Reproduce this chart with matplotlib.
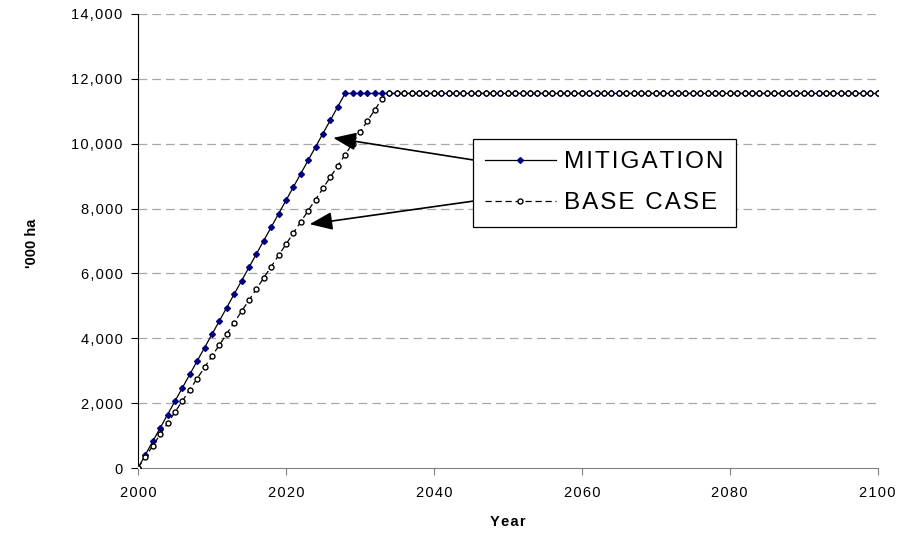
import matplotlib
matplotlib.use("Agg")
import matplotlib.pyplot as plt
from matplotlib.ticker import FuncFormatter, MultipleLocator
import numpy as np

plt.rcParams['font.family'] = ['Liberation Sans', 'DejaVu Sans']

years = list(range(2000, 2101))
plateau = 11550

# planted area, thousand hectares
mitigation_rise = [0, 413, 825, 1238, 1650, 2063, 2475, 2888, 3300, 3713,
                   4125, 4538, 4950, 5363, 5775, 6188, 6600, 7013, 7425, 7838,
                   8250, 8663, 9075, 9488, 9900, 10313, 10725, 11138]
base_rise = [0, 345, 690, 1035, 1380, 1725, 2070, 2415, 2760, 3105,
             3450, 3795, 4140, 4485, 4830, 5175, 5520, 5865, 6210, 6555,
             6900, 7245, 7590, 7935, 8280, 8625, 8970, 9315, 9660, 10005,
             10350, 10695, 11040, 11385]
mitigation = mitigation_rise + [plateau] * (len(years) - len(mitigation_rise))
base_case = base_rise + [plateau] * (len(years) - len(base_rise))


def spaced(s):
    # wide tracking, hair space between every character
    return '\u200a'.join(s)


fig = plt.figure(figsize=(9.2, 5.38), dpi=100)
ax = fig.add_axes([0.15, 0.130, 0.804, 0.844])

ax.plot(years, mitigation, color='black', lw=0.9, marker='D', ms=3.0,
        mfc='#000080', mec='#000080', label=spaced('MITIGATION'), zorder=3)
ax.plot(years, base_case, color='black', lw=0.9, ls=(0, (5, 3)), marker='o',
        ms=3.6, mfc='white', mec='black', mew=1.0, label=spaced('BASE CASE'),
        zorder=3)

ax.set_xlim(2000, 2100)
ax.set_ylim(0, 14000)
ax.xaxis.set_major_locator(MultipleLocator(20))
ax.yaxis.set_major_locator(MultipleLocator(2000))
ax.xaxis.set_major_formatter(FuncFormatter(lambda v, p: spaced(f"{int(v)}")))
ax.yaxis.set_major_formatter(FuncFormatter(lambda v, p: spaced(f"{int(v):,}")))

for y in range(2000, 14001, 2000):
    ax.axhline(y, color='#a8a8a8', lw=0.9, ls=(0, (7, 4)), zorder=1)

for s in ['top', 'right']:
    ax.spines[s].set_visible(False)
ax.spines['left'].set_color('black')
ax.spines['bottom'].set_color('#808080')
ax.tick_params(axis='both', labelsize=10.5, length=5, width=0.8, pad=6)
ax.tick_params(axis='x', color='#808080', pad=8)

ax.set_ylabel("'000 ha", fontsize=10.5, fontweight='bold')
ax.yaxis.set_label_coords(-0.134, 0.496)
ax.set_xlabel(spaced("Year"), fontsize=10.5, fontweight='bold', labelpad=11)

leg = ax.legend(loc='upper left', bbox_to_anchor=(0.453, 0.725), fontsize=17.5,
                frameon=True, fancybox=False, edgecolor='black', framealpha=1,
                handlelength=2.9, borderpad=0.5, labelspacing=0.8,
                handletextpad=0.35, borderaxespad=0)
leg.get_frame().set_linewidth(0.9)
leg.set_zorder(5)

arrow = dict(arrowstyle='-|>,head_length=1.4,head_width=0.55', color='black',
             lw=1.2, shrinkA=0, shrinkB=0)
ax.annotate('', xy=(2026.4, 10180), xytext=(2045.3, 9500),
            arrowprops=arrow, zorder=4)
ax.annotate('', xy=(2023.2, 7520), xytext=(2045.3, 8230),
            arrowprops=arrow, zorder=4)

fig.savefig('out.png', dpi=100)
